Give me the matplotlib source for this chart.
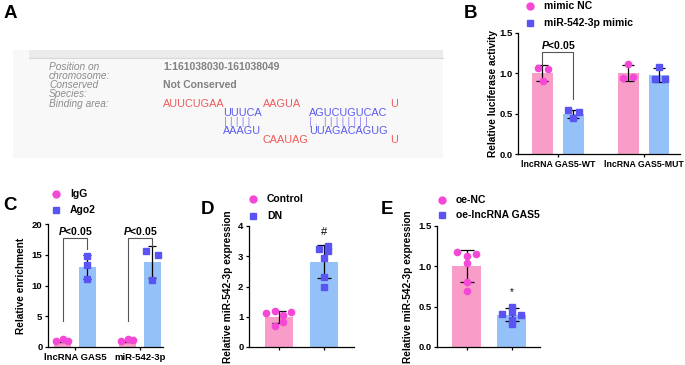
import matplotlib
matplotlib.use('Agg')
import matplotlib.pyplot as plt
from matplotlib.patches import Rectangle
from matplotlib.lines import Line2D

plt.rcParams['font.family'] = ['Liberation Sans', 'DejaVu Sans']
plt.rcParams['font.weight'] = 'bold'
plt.rcParams['mathtext.fontset'] = 'custom'
plt.rcParams['mathtext.it'] = 'Liberation Sans:italic:bold'
plt.rcParams['mathtext.rm'] = 'Liberation Sans:bold'

# ---- data ----
# B: luciferase
b_groups = ['lncRNA GAS5-WT', 'lncRNA GAS5-MUT']
b_nc_mean = [1.0, 1.0]
b_nc_sd = [0.10, 0.10]
b_mimic_mean = [0.50, 0.98]
b_mimic_sd = [0.05, 0.09]
b_nc_points = [[1.07, 1.05, 0.90], [1.11, 0.94, 0.96]]
b_mimic_points = [[0.55, 0.52, 0.45], [1.08, 0.93, 0.93]]

# C: RIP enrichment
c_groups = ['lncRNA GAS5', 'miR-542-3p']
c_igg_mean = [1.0, 1.0]
c_igg_sd = [0.2, 0.15]
c_ago2_mean = [13.0, 13.8]
c_ago2_sd = [1.9, 2.55]
c_igg_points = [[0.9, 1.3, 0.9], [0.9, 1.3, 1.1]]
c_ago2_points = [[14.85, 13.3, 11.05], [15.66, 14.9, 10.9]]

# D: Control vs DN
d_ctrl_points = [1.13, 1.20, 1.06, 1.16, 0.69, 0.81]
d_dn_points = [3.25, 3.35, 3.18, 2.93, 2.33, 2.00]
d_mean = [1.0, 2.82]
d_sd = [0.20, 0.54]

# E: oe-NC vs oe-lncRNA GAS5
e_nc_points = [1.18, 1.125, 1.15, 1.04, 0.81, 0.69]
e_gas5_points = [0.50, 0.43, 0.41, 0.40, 0.33, 0.28]
e_mean = [1.0, 0.40]
e_sd = [0.20, 0.08]

# ---- style ----
PINK_BAR = '#f89cc8'
PINK_PT = '#f548d6'
BLUE_BAR = '#94c1f7'
BLUE_PT = '#5a55f2'

W, H = 685, 365
fig = plt.figure(figsize=(W / 100, H / 100), dpi=100)


def rect(l, t, r, b):
    return [l / W, 1 - b / H, (r - l) / W, (b - t) / H]


def style_axes(ax, ylabel, label_right_px, ax_left_px, ax_right_px, tick_fs=6.8, lab_fs=7.3):
    for s in ['top', 'right']:
        ax.spines[s].set_visible(False)
    for s in ['left', 'bottom']:
        ax.spines[s].set_linewidth(0.9)
    ax.tick_params(direction='out', length=2.5, width=0.9, labelsize=tick_fs, pad=1.5)
    for t in ax.get_yticklabels() + ax.get_xticklabels():
        t.set_fontweight('bold')
    ax.set_ylabel(ylabel, fontsize=lab_fs, fontweight='bold')
    ax.yaxis.set_label_coords((label_right_px - ax_left_px) / (ax_right_px - ax_left_px), 0.5)


def legend_item(x, y, marker, color, label, ms):
    fig.add_artist(Line2D([x / W], [1 - y / H], marker=marker, color=color, ms=ms,
                          linestyle='none', transform=fig.transFigure))
    fig.text((x + 14) / W, 1 - y / H, label, fontsize=7.5, fontweight='bold', va='center')


def panel_letter(x, y, s):
    fig.text(x / W, 1 - y / H, s, fontsize=13.5, fontweight='bold', ha='center', va='center')


def points(ax, xc, vals, jit, marker, color, ms):
    xs = [xc + j for j in jit]
    ax.plot(xs, vals, linestyle='none', marker=marker, color=color, ms=ms, zorder=4)


# ---- panel A (sequence alignment image recreated as text) ----
axA = fig.add_axes([0, 1 - 170 / H, 460 / W, 170 / H])
axA.set_xlim(0, 460)
axA.set_ylim(170, 0)
axA.axis('off')
axA.add_patch(Rectangle((13, 50), 430, 108, fc='#f8f8f8', ec='none'))
axA.add_patch(Rectangle((29, 50), 414, 8, fc='#ebebeb', ec='none'))
axA.plot([29, 443], [58, 58], color='#d8d8d8', lw=0.8)
lab_kw = dict(fontsize=7.3, color='#8c8c8c', style='italic', fontweight='normal', va='center')
axA.text(49, 67, 'Position on', **lab_kw)
axA.text(49, 76, 'chromosome:', **lab_kw)
axA.text(49, 85, 'Conserved', **lab_kw)
axA.text(49, 94, 'Species:', **lab_kw)
axA.text(49, 104, 'Binding area:', **lab_kw)
val_kw = dict(fontsize=7.5, color='#808080', fontweight='bold', va='center')
axA.text(163, 67, '1:161038030-161038049', **val_kw)
axA.text(163, 85, 'Not Conserved', **val_kw)
red = dict(fontsize=7.8, color='#f05a5a', fontweight='normal', va='center')
blue = dict(fontsize=7.8, color='#5a5af0', fontweight='normal', va='center')
pipe = dict(fontsize=7.8, color='#9a86f0', fontweight='normal', va='center')
axA.text(163, 104, 'AUUCUGAA', **red)
axA.text(263, 104, 'AAGUA', **red)
axA.text(390, 104, 'U', **red)
axA.text(223, 113, 'UUUCA', **blue)
axA.text(309, 113, 'AGUCUGUCAC', **blue)
axA.text(224, 122, '| | | | |', **pipe)
axA.text(309, 122, '| .  | | | | | | | |', **pipe)
axA.text(223, 131, 'AAAGU', **blue)
axA.text(309, 131, 'UUAGACAGUG', **blue)
axA.text(263, 140, 'CAAUAG', **red)
axA.text(390, 140, 'U', **red)
panel_letter(10, 14, 'A')

# ---- panel B ----
axB = fig.add_axes(rect(518, 33, 680, 154))
off_b, w_b = 0.18, 0.235
for i in range(2):
    axB.bar(i - off_b, b_nc_mean[i], w_b, color=PINK_BAR, zorder=2)
    axB.bar(i + off_b, b_mimic_mean[i], w_b, color=BLUE_BAR, zorder=2)
    axB.errorbar(i - off_b, b_nc_mean[i], yerr=b_nc_sd[i], fmt='none', ecolor='black',
                 elinewidth=0.9, capsize=4.2, capthick=0.9, zorder=3)
    axB.errorbar(i + off_b, b_mimic_mean[i], yerr=b_mimic_sd[i], fmt='none', ecolor='black',
                 elinewidth=0.9, capsize=4.2, capthick=0.9, zorder=3)
jit_b = [[[-0.05, 0.065, 0.01], [0.0, -0.06, 0.05]], [[-0.06, 0.06, 0.0], [0.0, -0.055, 0.06]]]
for i in range(2):
    points(axB, i - off_b, b_nc_points[i], jit_b[0][i], 'o', PINK_PT, 4.5)
    points(axB, i + off_b, b_mimic_points[i], jit_b[1][i], 's', BLUE_PT, 4.2)
axB.plot([-off_b, -off_b, off_b, off_b], [1.10, 1.26, 1.26, 0.68], color='#555555', lw=0.8, zorder=3)
axB.text(0, 1.275, r'$\mathit{P}$<0.05', ha='center', va='bottom', fontsize=7.5, fontweight='bold')
axB.set_xlim(-0.465, 1.42)
axB.set_ylim(0, 1.5)
axB.set_yticks([0, 0.5, 1.0, 1.5])
axB.set_yticklabels(['0.0', '0.5', '1.0', '1.5'])
axB.set_xticks([0, 1])
axB.set_xticklabels(b_groups)
style_axes(axB, 'Relative luciferase activity', 498, 518, 680)
axB.tick_params(axis='x', labelsize=6.3)
legend_item(530, 6, 'o', PINK_PT, 'mimic NC', 5)
legend_item(530, 23, 's', BLUE_PT, 'miR-542-3p mimic', 4.5)
panel_letter(470, 14, 'B')

# ---- panel C ----
axC = fig.add_axes(rect(48, 224, 163, 347))
off_c, w_c = 0.19, 0.26
for i in range(2):
    axC.bar(i - off_c, c_igg_mean[i], w_c, color=PINK_BAR, zorder=2)
    axC.bar(i + off_c, c_ago2_mean[i], w_c, color=BLUE_BAR, zorder=2)
    axC.errorbar(i - off_c, c_igg_mean[i], yerr=c_igg_sd[i], fmt='none', ecolor='black',
                 elinewidth=0.9, capsize=3.2, capthick=0.9, zorder=3)
    axC.errorbar(i + off_c, c_ago2_mean[i], yerr=c_ago2_sd[i], fmt='none', ecolor='black',
                 elinewidth=0.9, capsize=3.2, capthick=0.9, zorder=3)
jit_c = [[-0.1, 0.0, 0.09], [0.0, 0.0, 0.0], [-0.1, 0.0, 0.09], [-0.1, 0.09, 0.0]]
for i in range(2):
    points(axC, i - off_c, c_igg_points[i], jit_c[2 * i], 'o', PINK_PT, 4.5)
    points(axC, i + off_c, c_ago2_points[i], jit_c[2 * i + 1], 's', BLUE_PT, 4.3)
for i, right_end in zip(range(2), [16.0, 16.4]):
    axC.plot([i - off_c, i - off_c, i + off_c, i + off_c], [4.3, 17.7, 17.7, right_end],
             color='#555555', lw=0.8, zorder=3)
    axC.text(i, 17.9, r'$\mathit{P}$<0.05', ha='center', va='bottom', fontsize=7.5, fontweight='bold')
axC.set_xlim(-0.415, 1.354)
axC.set_ylim(0, 20)
axC.set_yticks([0, 5, 10, 15, 20])
axC.set_xticks([0, 1])
axC.set_xticklabels(c_groups)
style_axes(axC, 'Relative enrichment', 26, 48, 163)
legend_item(56, 194, 'o', PINK_PT, 'IgG', 5)
legend_item(56, 210, 's', BLUE_PT, 'Ago2', 4.5)
panel_letter(10, 206, 'C')

# ---- panel D ----
axD = fig.add_axes(rect(249, 226, 354, 347))
axD.bar([0, 1], d_mean, 0.64, color=[PINK_BAR, BLUE_BAR], zorder=2)
axD.errorbar([0, 1], d_mean, yerr=d_sd, fmt='none', ecolor='black',
             elinewidth=0.9, capsize=5.2, capthick=0.9, zorder=3)
points(axD, 0, d_ctrl_points, [-0.29, -0.10, 0.08, 0.27, -0.10, 0.08], 'o', PINK_PT, 4.5)
points(axD, 1, d_dn_points, [-0.12, 0.09, 0.09, 0.0, 0.0, 0.0], 's', BLUE_PT, 4.3)
axD.text(1, 3.62, '#', ha='center', va='bottom', fontsize=8, fontweight='normal')
axD.set_xlim(-0.667, 1.667)
axD.set_ylim(0, 4)
axD.set_yticks([0, 1, 2, 3, 4])
axD.set_xticks([0, 1])
axD.set_xticklabels(['', ''])
style_axes(axD, 'Relative miR-542-3p expression', 233, 249, 354)
legend_item(253, 199, 'o', PINK_PT, 'Control', 5)
legend_item(253, 216, 's', BLUE_PT, 'DN', 4.5)
panel_letter(208, 210, 'D')

# ---- panel E ----
axE = fig.add_axes(rect(437, 226, 540, 347))
axE.bar([0, 1], e_mean, 0.64, color=[PINK_BAR, BLUE_BAR], zorder=2)
axE.errorbar([0, 1], e_mean, yerr=e_sd, fmt='none', ecolor='black',
             elinewidth=0.9, capsize=5.0, capthick=0.9, zorder=3)
points(axE, 0, e_nc_points, [-0.21, 0.0, 0.21, 0.0, 0.0, 0.0], 'o', PINK_PT, 4.5)
points(axE, 1, e_gas5_points, [0.0, 0.0, -0.22, 0.21, 0.0, 0.0], 's', BLUE_PT, 4.3)
axE.text(1, 0.62, '*', ha='center', va='bottom', fontsize=7, fontweight='normal')
axE.set_xlim(-0.656, 1.633)
axE.set_ylim(0, 1.5)
axE.set_yticks([0, 0.5, 1.0, 1.5])
axE.set_yticklabels(['0.0', '0.5', '1.0', '1.5'])
axE.set_xticks([0, 1])
axE.set_xticklabels(['', ''])
style_axes(axE, 'Relative miR-542-3p expression', 413, 437, 540)
legend_item(442, 200, 'o', PINK_PT, 'oe-NC', 5)
legend_item(442, 215, 's', BLUE_PT, 'oe-lncRNA GAS5', 4.5)
panel_letter(387, 210, 'E')

fig.savefig('out.png', dpi=100)
